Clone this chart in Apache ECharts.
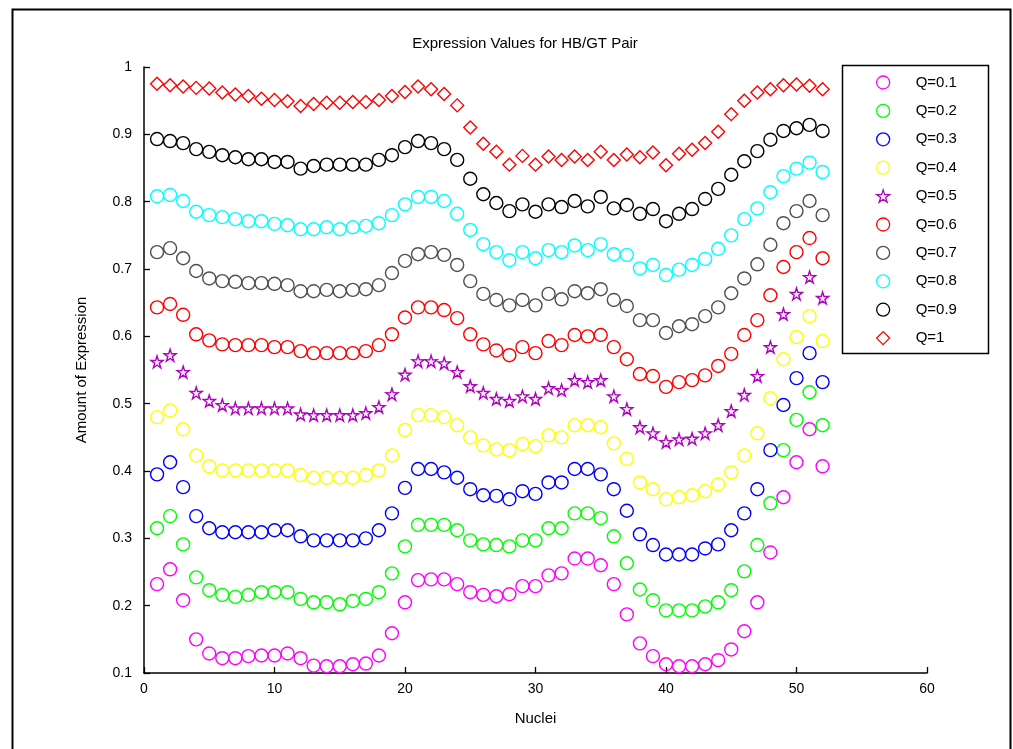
<!DOCTYPE html>
<html>
<head>
<meta charset="utf-8">
<script src="https://cdn.jsdelivr.net/npm/echarts@6/dist/echarts.min.js"></script>
<style>html,body{margin:0;padding:0;background:#fff}#c{width:1013px;height:749px}</style>
</head>
<body>
<div id="c"></div>
<script>
const nuclei = [1,2,3,4,5,6,7,8,9,10,11,12,13,14,15,16,17,18,19,20,21,22,23,24,25,26,27,28,29,30,31,32,33,34,35,36,37,38,39,40,41,42,43,44,45,46,47,48,49,50,51,52];
const seriesNames = ['Q=0.1','Q=0.2','Q=0.3','Q=0.4','Q=0.5','Q=0.6','Q=0.7','Q=0.8','Q=0.9','Q=1'];
const q01 = [.232,.254,.208,.15,.129,.122,.122,.125,.126,.126,.129,.122,.111,.11,.11,.113,.114,.126,.159,.205,.238,.239,.239,.232,.22,.216,.214,.217,.229,.229,.245,.248,.27,.27,.26,.232,.187,.144,.125,.113,.11,.11,.113,.119,.135,.162,.205,.279,.361,.413,.462,.407];
const q02 = [.315,.333,.291,.242,.223,.216,.213,.216,.22,.22,.22,.21,.205,.205,.202,.207,.21,.22,.248,.288,.32,.32,.32,.312,.297,.291,.29,.288,.297,.297,.315,.315,.337,.337,.33,.303,.263,.224,.208,.193,.193,.193,.199,.205,.223,.251,.29,.352,.431,.476,.517,.468];
const q03 = [.395,.413,.376,.333,.315,.309,.309,.309,.309,.312,.312,.303,.297,.297,.297,.297,.30,.312,.337,.375,.403,.403,.398,.39,.373,.364,.363,.358,.37,.366,.383,.383,.403,.403,.395,.373,.341,.306,.29,.276,.276,.276,.285,.291,.312,.337,.373,.431,.498,.538,.575,.532];
const q04 = [.48,.49,.462,.423,.407,.401,.401,.401,.401,.401,.401,.394,.39,.39,.39,.39,.394,.401,.423,.461,.483,.483,.48,.468,.45,.438,.432,.431,.44,.437,.453,.45,.468,.468,.465,.441,.418,.383,.373,.358,.361,.364,.37,.38,.398,.423,.456,.508,.566,.599,.63,.593];
const q05 = [.562,.572,.547,.516,.504,.498,.493,.493,.493,.493,.493,.484,.483,.483,.483,.483,.486,.495,.514,.543,.563,.563,.56,.547,.526,.516,.507,.504,.511,.507,.523,.52,.535,.532,.535,.511,.492,.465,.456,.443,.447,.448,.456,.468,.489,.513,.541,.584,.633,.663,.688,.657];
const q06 = [.643,.648,.632,.603,.594,.588,.587,.587,.587,.584,.584,.578,.575,.575,.575,.575,.578,.587,.603,.628,.643,.643,.639,.627,.603,.588,.579,.572,.584,.575,.593,.587,.602,.60,.602,.584,.566,.544,.541,.525,.532,.535,.542,.556,.574,.602,.624,.661,.703,.725,.746,.716];
const q07 = [.725,.731,.716,.697,.686,.682,.681,.679,.679,.678,.676,.667,.667,.669,.667,.669,.67,.676,.694,.712,.722,.725,.721,.706,.682,.663,.654,.646,.654,.646,.663,.655,.667,.664,.67,.654,.645,.624,.624,.605,.615,.618,.63,.643,.664,.686,.707,.736,.768,.786,.801,.78];
const q08 = [.808,.81,.801,.785,.78,.777,.774,.771,.771,.767,.765,.759,.759,.762,.759,.762,.764,.768,.78,.796,.807,.807,.801,.782,.758,.737,.725,.713,.725,.716,.728,.725,.735,.728,.737,.722,.721,.701,.706,.691,.699,.706,.715,.73,.75,.774,.79,.814,.838,.849,.858,.844];
const q09 = [.893,.890,.887,.878,.874,.869,.866,.863,.863,.859,.859,.849,.853,.855,.855,.855,.855,.862,.869,.881,.890,.887,.878,.862,.834,.811,.798,.786,.796,.785,.796,.792,.801,.793,.807,.790,.795,.782,.789,.771,.782,.789,.804,.819,.840,.860,.875,.892,.905,.909,.914,.905];
const q10 = [.975,.973,.971,.969,.968,.962,.959,.957,.953,.951,.949,.942,.945,.947,.947,.948,.948,.951,.957,.963,.971,.967,.96,.943,.91,.886,.874,.855,.868,.855,.867,.862,.867,.862,.874,.862,.870,.866,.873,.854,.871,.877,.887,.904,.930,.950,.962,.967,.973,.974,.972,.967];
const yTicks = ['0.1','0.2','0.3','0.4','0.5','0.6','0.7','0.8','0.9','1'];

const allValues = [q01,q02,q03,q04,q05,q06,q07,q08,q09,q10];
const colors = ['#ff00ff','#00ff00','#0000ff','#ffff00','#b000c0','#ff0000','#505050','#00ffff','#000000','#ff0000'];
const STAR = 'path://M50 0 L61.2 34.6 L97.6 34.5 L68.1 55.9 L79.4 90.5 L50 69 L20.6 90.5 L31.9 55.9 L2.4 34.5 L38.8 34.6 Z';
const symbols = ['circle','circle','circle','circle',STAR,'circle','circle','circle','circle','diamond'];
const sizes = [13,13,13,13,12,13,13,13,13,13];

const series = allValues.map((vals, i) => ({
  name: seriesNames[i],
  type: 'scatter',
  symbol: symbols[i],
  symbolSize: sizes[i],
  clip: false,
  itemStyle: { color: 'rgba(0,0,0,0)', borderColor: colors[i], borderWidth: 1.4, opacity: 1 },
  emphasis: { disabled: true },
  data: nuclei.map((x, j) => [x, vals[j]])
}));

const chart = echarts.init(document.getElementById('c'), null, { renderer: 'canvas' });
const FONT = 'Liberation Sans';
chart.setOption({
  animation: false,
  backgroundColor: '#ffffff',
  grid: { left: 144, right: 86, top: 67, bottom: 76, containLabel: false },
  xAxis: {
    type: 'value', min: 0, max: 60, interval: 10,
    name: 'Nuclei', nameLocation: 'middle', nameGap: 38,
    nameTextStyle: { fontFamily: FONT, fontSize: 15, color: '#000' },
    axisLine: { show: true, onZero: false, lineStyle: { color: '#000', width: 1.5 } },
    axisTick: { show: true, inside: true, length: 6, lineStyle: { color: '#000', width: 1.3 } },
    axisLabel: { fontFamily: FONT, fontSize: 14, color: '#000', margin: 9 },
    splitLine: { show: false }
  },
  yAxis: {
    type: 'value', min: 0.1, max: 1, interval: 0.1,
    name: 'Amount of Expression', nameLocation: 'middle', nameGap: 55,
    nameTextStyle: { fontFamily: FONT, fontSize: 15, color: '#000' },
    axisLine: { show: true, onZero: false, lineStyle: { color: '#000', width: 1.5 } },
    axisTick: { show: true, inside: true, length: 6, lineStyle: { color: '#000', width: 1.3 } },
    axisLabel: { fontFamily: FONT, fontSize: 14, color: '#000', margin: 12,
      formatter: v => { const k = Math.round(v * 10) - 1; return yTicks[k] !== undefined ? yTicks[k] : ''; } },
    splitLine: { show: false }
  },
  legend: {
    orient: 'vertical', left: 871, top: 70,
    itemWidth: 13, itemHeight: 13, itemGap: 13.4,
    textStyle: { fontFamily: FONT, fontSize: 15, color: '#000', padding: [0, 0, 0, 21] },
    selectedMode: false,
    data: seriesNames.map((n, i) => ({ name: n, itemStyle: { color: 'rgba(0,0,0,0)', borderColor: colors[i], borderWidth: 1.3 } }))
  },
  graphic: [
    { type: 'rect', shape: { x: 12.5, y: 9.5, width: 998, height: 745 }, style: { fill: 'none', stroke: '#000', lineWidth: 2 }, silent: true },
    { type: 'rect', shape: { x: 842.5, y: 65.5, width: 146, height: 288 }, style: { fill: 'none', stroke: '#000', lineWidth: 1.5 }, silent: true, z: 10 },
    { type: 'text', x: 525, y: 44, style: { text: 'Expression Values for HB/GT Pair', fontFamily: FONT, fontSize: 15, fill: '#000', textAlign: 'center', textVerticalAlign: 'middle' }, silent: true }
  ],
  series: series
});
</script>
</body>
</html>
